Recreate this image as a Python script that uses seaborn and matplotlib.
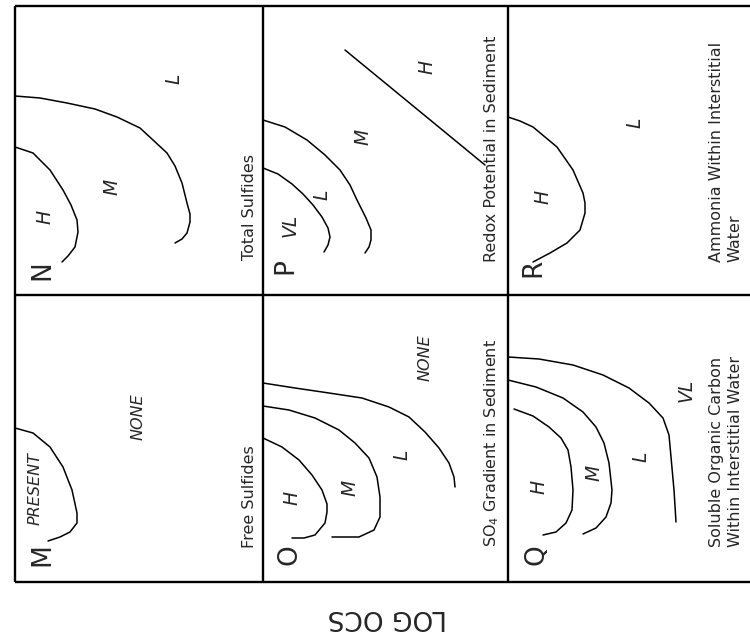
import matplotlib
matplotlib.use("Agg")
import matplotlib.pyplot as plt
import seaborn as sns
import pandas as pd

# ---- contour boundaries (page units: x to the right, y downward) ----
# N : Total Sulfides
n_hi_x = [15, 33, 50, 63, 71, 77, 78, 75, 68, 62]
n_hi_y = [147, 153, 170, 190, 205, 220, 232, 247, 256, 262]
n_med_x = [15, 40, 67, 95, 117, 140, 153, 167, 175, 182, 187, 190, 190, 187, 182, 175]
n_med_y = [96, 98, 103, 109, 117, 128, 140, 153, 166, 183, 203, 214, 222, 233, 239, 243]

# P : Redox Potential in Sediment
p_vl_x = [263, 278, 292, 303, 313, 322, 328, 330, 328, 324]
p_vl_y = [168, 174, 184, 194, 205, 217, 228, 237, 245, 252]
p_lo_x = [263, 285, 307, 325, 340, 350, 357, 366, 371, 371, 369, 365]
p_lo_y = [120, 127, 140, 155, 170, 185, 200, 218, 230, 240, 247, 253]
p_hi_x = [345, 485]
p_hi_y = [50, 165]

# R : Ammonia Within Interstitial Water
r_hi_x = [508, 520, 533, 557, 573, 583, 585, 585, 580, 567, 550, 533]
r_hi_y = [117, 121, 127, 147, 170, 193, 203, 213, 230, 243, 253, 262]

# M : Free Sulfides
m_pr_x = [15, 33, 50, 63, 72, 77, 77, 70, 60, 48]
m_pr_y = [428, 433, 447, 467, 490, 513, 523, 532, 537, 541]

# O : SO4 Gradient in Sediment
o_hi_x = [263, 282, 299, 312, 322, 327, 327, 325, 315, 304, 292]
o_hi_y = [438, 447, 460, 475, 490, 504, 512, 523, 535, 538, 538]
o_med_x = [263, 289, 315, 339, 355, 369, 377, 380, 380, 374, 359, 332]
o_med_y = [406, 410, 418, 430, 443, 458, 477, 497, 517, 530, 537, 537]
o_lo_x = [263, 295, 329, 362, 389, 409, 425, 439, 449, 454, 455]
o_lo_y = [383, 388, 393, 398, 407, 417, 432, 448, 463, 477, 487]

# Q : Soluble Organic Carbon Within Interstitial Water
q_hi_x = [514, 533, 549, 561, 568, 571, 573, 572, 566, 556, 543]
q_hi_y = [409, 416, 427, 438, 450, 467, 490, 510, 523, 532, 535]
q_med_x = [508, 536, 563, 583, 596, 604, 609, 612, 611, 606, 596, 583]
q_med_y = [380, 387, 398, 412, 427, 443, 463, 490, 503, 517, 528, 534]
q_lo_x = [508, 539, 573, 603, 629, 649, 663, 669, 671, 674, 676]
q_lo_y = [357, 359, 365, 375, 388, 403, 418, 435, 457, 490, 522]

curves = [
    (n_hi_x, n_hi_y), (n_med_x, n_med_y),
    (p_vl_x, p_vl_y), (p_lo_x, p_lo_y), (p_hi_x, p_hi_y),
    (r_hi_x, r_hi_y),
    (m_pr_x, m_pr_y),
    (o_hi_x, o_hi_y), (o_med_x, o_med_y), (o_lo_x, o_lo_y),
    (q_hi_x, q_hi_y), (q_med_x, q_med_y), (q_lo_x, q_lo_y),
]

# ---- text ----
panel_letters = ["N", "P", "R", "M", "O", "Q"]
panel_letter_x = [42, 285, 533, 42, 289, 536]
panel_letter_y = [270, 266, 268, 555, 555, 555]

panel_titles = [
    "Total Sulfides",
    "Redox Potential in Sediment",
    "Ammonia Within Interstitial\nWater",
    "Free Sulfides",
    "SO$_4$ Gradient in Sediment",
    "Soluble Organic Carbon\nWithin Interstitial Water",
]
panel_title_x = [249, 492, 726, 249, 492, 726]
panel_title_y = [260, 262, 262, 548, 547, 547]

zone_labels = ["H", "M", "L",
               "VL", "L", "M", "H",
               "H", "L",
               "PRESENT", "NONE",
               "H", "M", "L", "NONE",
               "H", "M", "L", "VL"]
zone_x = [45, 112, 174,
          290, 322, 363, 427,
          543, 635,
          35, 138,
          292, 350, 402, 425,
          539, 594, 641, 686]
zone_y = [217, 187, 79,
          225, 195, 137, 67,
          197, 123,
          489, 417,
          498, 488, 455, 358,
          487, 473, 457, 390]

axis_label = "LOG OCS"

# ---- figure ----
sns.set_style("white")
plt.rcParams["font.family"] = ["DejaVu Sans"]

fig = plt.figure(figsize=(7.5, 6.4), dpi=100)
ax = fig.add_axes([0, 0, 1, 1])

for cx, cy in curves:
    sns.lineplot(data=pd.DataFrame({"x": cx, "y": cy}), x="x", y="y",
                 sort=False, estimator=None, color="black", lw=1.1, ax=ax)
for ln in ax.lines:
    ln.set_solid_joinstyle("round")
    ln.set_solid_capstyle("round")

# panel grid
ax.hlines([6, 295, 582], 15, 750, color="black", lw=1.7)
ax.vlines([15, 263, 508], 6, 582, color="black", lw=1.7)

for t, x, y in zip(panel_letters, panel_letter_x, panel_letter_y):
    ax.text(x, y, t, rotation=90, ha="center", va="center", fontsize=19)

for t, x, y in zip(panel_titles, panel_title_x, panel_title_y):
    ax.text(x, y, t, rotation=90, ha="center", va="bottom", fontsize=11.5,
            multialignment="left", linespacing=1.3)

for t, x, y in zip(zone_labels, zone_x, zone_y):
    small = len(t) > 2
    ax.text(x, y, t, rotation=90, ha="center", va="center",
            fontsize=11.5 if small else 13.5, style="italic")

ax.text(387, 617, axis_label, rotation=180, ha="center", va="center", fontsize=19)

ax.set_xlim(0, 750)
ax.set_ylim(640, 0)
ax.set_axis_off()

fig.savefig("out.png", dpi=100, facecolor="white")
